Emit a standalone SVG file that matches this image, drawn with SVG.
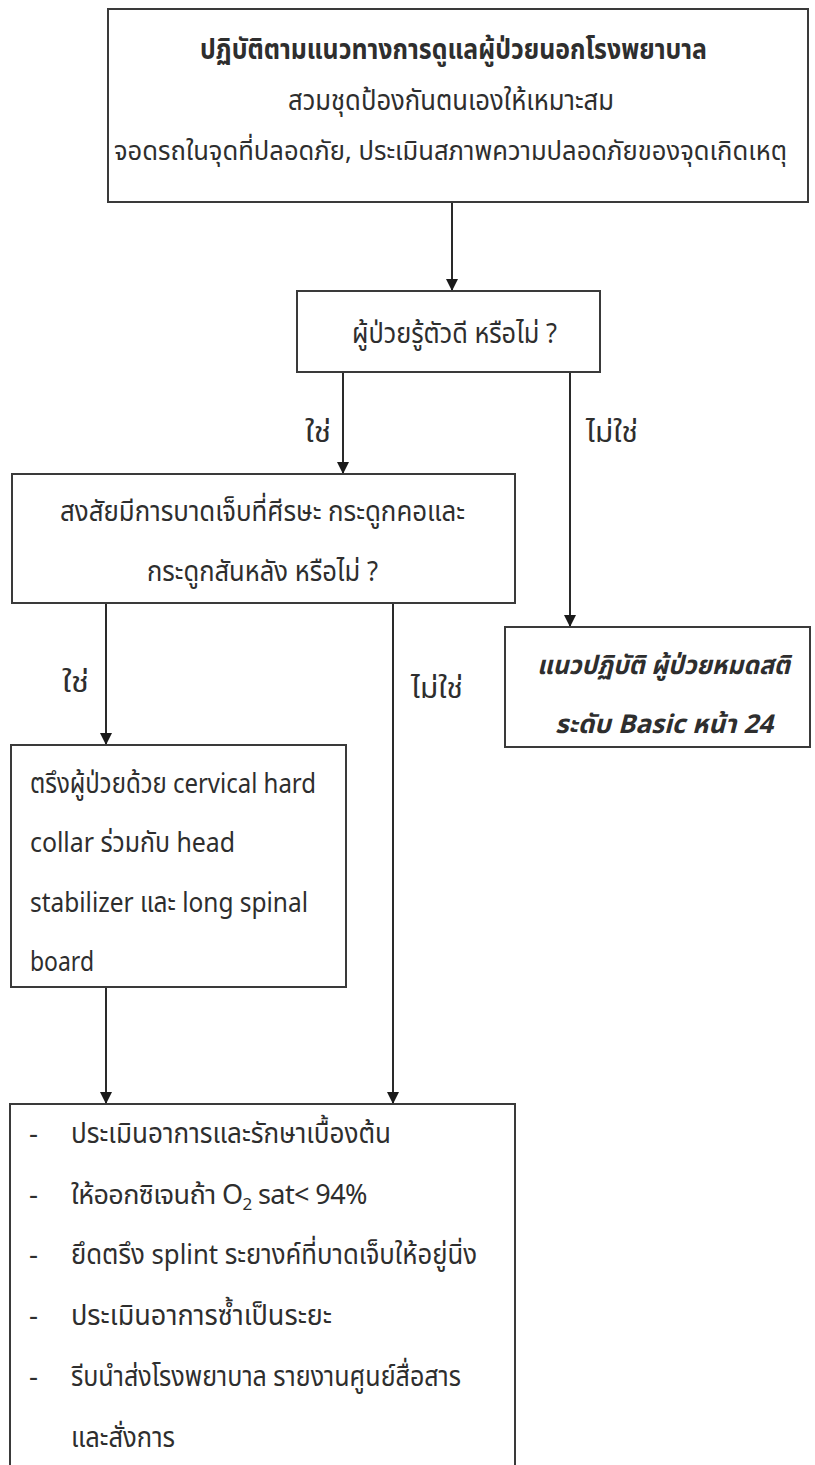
<svg xmlns="http://www.w3.org/2000/svg" width="815" height="1465" viewBox="0 0 815 1465">
<defs>
<marker id="arr" markerUnits="userSpaceOnUse" markerWidth="12" markerHeight="12" viewBox="0 0 12 12" refX="12" refY="6" orient="auto">
<path d="M0,0 L12,6 L0,12 z" fill="#1a1a1a"/>
</marker>
</defs>
<style>
.box{fill:#fff;stroke:#3a3a3a;stroke-width:2}
.t{font-family:"Noto Sans Thai","Noto Sans","DejaVu Sans",sans-serif;font-size:28px;fill:#2e2e2e}
.s{font-size:26px}
.o2{font-size:27px;letter-spacing:-0.6px}
.b{font-weight:bold}
.bi{font-weight:bold;font-style:italic}
.c{fill:none;stroke:#2a2a2a;stroke-width:2}
</style>
<rect width="815" height="1465" fill="#fff"/>
<g id="connectors">
<line class="c" x1="452" y1="203" x2="452" y2="291" marker-end="url(#arr)"/>
<line class="c" x1="343" y1="372" x2="343" y2="474" marker-end="url(#arr)"/>
<line class="c" x1="570" y1="372" x2="570" y2="627" marker-end="url(#arr)"/>
<line class="c" x1="106" y1="603" x2="106" y2="745" marker-end="url(#arr)"/>
<line class="c" x1="393" y1="603" x2="393" y2="1104" marker-end="url(#arr)"/>
<line class="c" x1="106" y1="987" x2="106" y2="1104" marker-end="url(#arr)"/>
<text class="t" x="305" y="442" textLength="26" lengthAdjust="spacingAndGlyphs">ใช่</text>
<text class="t" x="586" y="442" textLength="52" lengthAdjust="spacingAndGlyphs">ไม่ใช่</text>
<text class="t" x="62" y="692" textLength="27" lengthAdjust="spacingAndGlyphs">ใช่</text>
<text class="t" x="411" y="698" textLength="52" lengthAdjust="spacingAndGlyphs">ไม่ใช่</text>
</g>
<g id="n1">
<rect class="box" x="108" y="9" width="700" height="193"/>
<text class="t b" x="200" y="59" textLength="507" lengthAdjust="spacingAndGlyphs">ปฏิบัติตามแนวทางการดูแลผู้ป่วยนอกโรงพยาบาล</text>
<text class="t" x="288" y="110" textLength="326" lengthAdjust="spacingAndGlyphs">สวมชุดป้องกันตนเองให้เหมาะสม</text>
<text class="t s" x="114" y="160" textLength="673" lengthAdjust="spacingAndGlyphs">จอดรถในจุดที่ปลอดภัย, ประเมินสภาพความปลอดภัยของจุดเกิดเหตุ</text>
</g>
<g id="n2">
<rect class="box" x="297" y="291" width="303" height="81"/>
<text class="t" x="352" y="343" textLength="205" lengthAdjust="spacingAndGlyphs">ผู้ป่วยรู้ตัวดี หรือไม่ ?</text>
</g>
<g id="n3">
<rect class="box" x="12" y="474" width="503" height="129"/>
<text class="t" x="60" y="521" textLength="405" lengthAdjust="spacingAndGlyphs">สงสัยมีการบาดเจ็บที่ศีรษะ กระดูกคอและ</text>
<text class="t" x="147" y="581" textLength="231" lengthAdjust="spacingAndGlyphs">กระดูกสันหลัง หรือไม่ ?</text>
</g>
<g id="n4">
<rect class="box" x="505" y="627" width="305" height="120"/>
<text class="t s bi" x="537" y="674" textLength="253" lengthAdjust="spacingAndGlyphs">แนวปฏิบัติ ผู้ป่วยหมดสติ</text>
<text class="t s bi" x="555" y="733" textLength="218" lengthAdjust="spacingAndGlyphs">ระดับ Basic หน้า 24</text>
</g>
<g id="n5">
<rect class="box" x="11" y="745" width="335" height="242"/>
<text class="t" x="30" y="793" textLength="286" lengthAdjust="spacingAndGlyphs">ตรึงผู้ป่วยด้วย cervical hard</text>
<text class="t" x="30" y="852" textLength="205" lengthAdjust="spacingAndGlyphs">collar ร่วมกับ head</text>
<text class="t" x="30" y="912" textLength="278" lengthAdjust="spacingAndGlyphs">stabilizer และ long spinal</text>
<text class="t" x="30" y="971" textLength="64" lengthAdjust="spacingAndGlyphs">board</text>
</g>
<g id="n6">
<rect class="box" x="10" y="1104" width="505" height="380"/>
<text class="t" x="29" y="1143">-</text>
<text class="t" x="71" y="1143" textLength="320" lengthAdjust="spacingAndGlyphs">ประเมินอาการและรักษาเบื้องต้น</text>
<text class="t" x="29" y="1204">-</text>
<text class="t o2" x="71" y="1204">ให้ออกซิเจนถ้า O<tspan font-size="17" dy="6">2</tspan><tspan dy="-6"> sat&lt; 94%</tspan></text>
<text class="t" x="29" y="1264">-</text>
<text class="t" x="71" y="1264" textLength="406" lengthAdjust="spacingAndGlyphs">ยึดตรึง splint  ระยางค์ที่บาดเจ็บให้อยู่นิ่ง</text>
<text class="t" x="29" y="1325">-</text>
<text class="t" x="71" y="1325" textLength="261" lengthAdjust="spacingAndGlyphs">ประเมินอาการซ้ำเป็นระยะ</text>
<text class="t" x="29" y="1386">-</text>
<text class="t" x="71" y="1386" textLength="390" lengthAdjust="spacingAndGlyphs">รีบนำส่งโรงพยาบาล รายงานศูนย์สื่อสาร</text>
<text class="t" x="71" y="1447" textLength="104" lengthAdjust="spacingAndGlyphs">และสั่งการ</text>
</g>
</svg>
